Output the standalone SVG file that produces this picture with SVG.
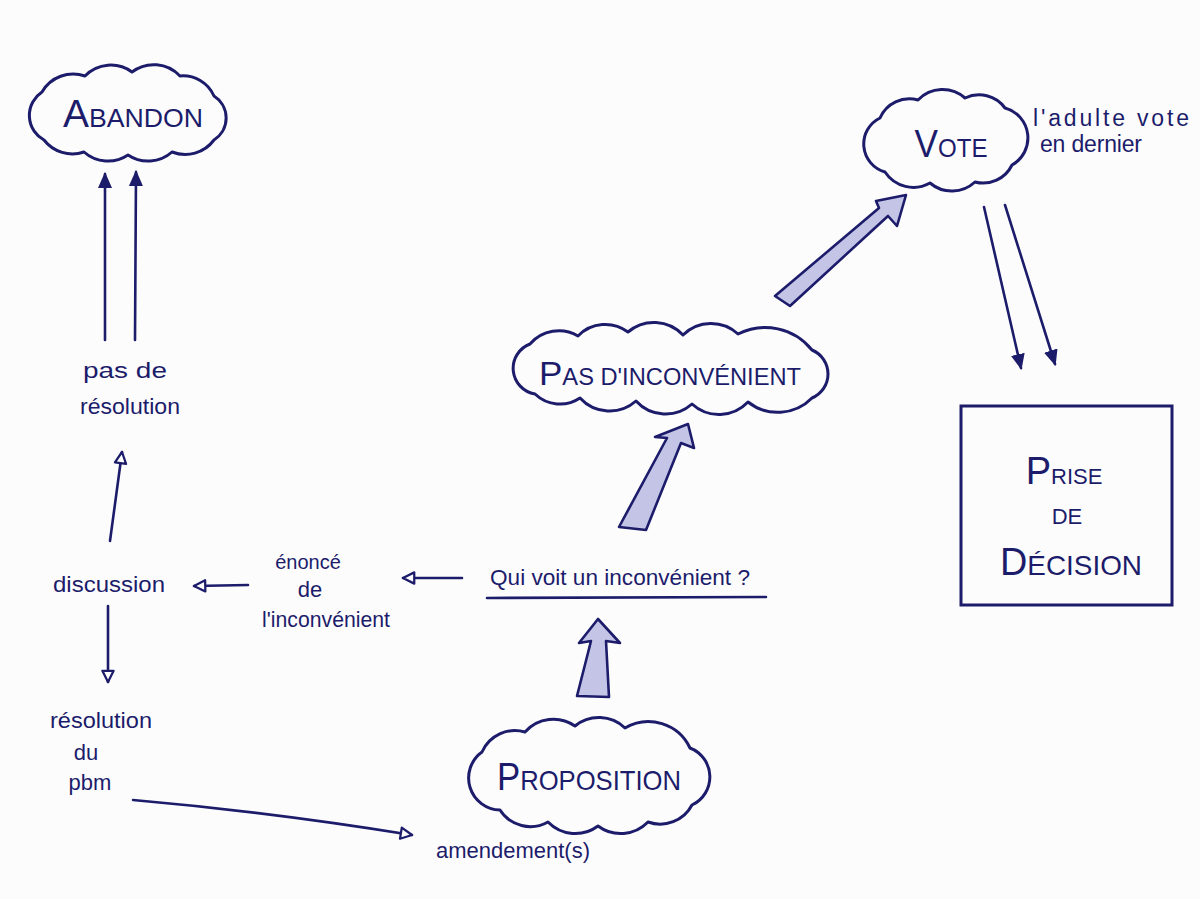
<svg xmlns="http://www.w3.org/2000/svg" width="1200" height="899" viewBox="0 0 1200 899">
  <style>
    .ink { fill: #1c1c6b; font-family: "Liberation Sans", "DejaVu Sans", sans-serif; }
    .t { font-size: 22px; }
    .cap { font-size: 26px; }
    .big { font-size: 38px; }
    .line { fill: none; stroke: #1c1c6b; stroke-width: 2.6; stroke-linecap: round; }
    .cloud { fill: none; stroke: #1c1c6b; stroke-width: 3; stroke-linejoin: round; }
    .block { fill: #c4c4e6; stroke: #1c1c6b; stroke-width: 2.6; stroke-linejoin: round; }
  </style>
  <defs>
    <marker id="headFill" viewBox="0 0 16 16" refX="14" refY="8" markerWidth="16" markerHeight="16" markerUnits="userSpaceOnUse" orient="auto">
      <path d="M0,1 L16,8 L0,15 Z" fill="#1c1c6b"/>
    </marker>
    <marker id="headOpen" viewBox="0 0 16 16" refX="14" refY="8" markerWidth="15" markerHeight="15" markerUnits="userSpaceOnUse" orient="auto">
      <path d="M2,2 L14,8 L2,14 Z" fill="#ffffff" stroke="#1c1c6b" stroke-width="2.4" stroke-linejoin="round"/>
    </marker>
  </defs>

  <rect x="0" y="0" width="1200" height="899" fill="#fcfcfd"/>

  <g id="abandon">
    <path class="cloud" d="M42,92 A36,36 0 0 1 85,76 A36,36 0 0 1 132,72 A36,36 0 0 1 180,76 A34,34 0 0 1 214,96 A26,26 0 0 1 214,140 A36,36 0 0 1 172,152 A36,36 0 0 1 128,155 A36,36 0 0 1 84,152 A36,36 0 0 1 44,140 A28,28 0 0 1 42,92 Z"/>
    <text class="ink" x="133" y="127" text-anchor="middle" textLength="140" lengthAdjust="spacingAndGlyphs"><tspan class="big">A</tspan><tspan class="cap">BANDON</tspan></text>
  </g>

  <g id="vote">
    <path class="cloud" d="M880,118 A32,32 0 0 1 918,100 A34,34 0 0 1 965,98 A32,32 0 0 1 1005,108 A31,31 0 0 1 1012,165 A32,32 0 0 1 975,182 A34,34 0 0 1 930,183 A34,34 0 0 1 885,172 A29,29 0 0 1 880,118 Z"/>
    <text class="ink" x="951" y="157" text-anchor="middle" textLength="73" lengthAdjust="spacingAndGlyphs"><tspan class="big">V</tspan><tspan class="cap">OTE</tspan></text>
  </g>

  <g id="note-adulte">
    <text class="ink" x="1033" y="126" font-size="23" textLength="156" lengthAdjust="spacing">l'adulte vote</text>
    <text class="ink" x="1040" y="152" font-size="23" textLength="102" lengthAdjust="spacing">en dernier</text>
  </g>

  <g id="pas-inconvenient">
    <path class="cloud" d="M530,344 A38,38 0 0 1 578,336 A38,38 0 0 1 628,332 A40,40 0 0 1 683,335 A40,40 0 0 1 738,334 A60,60 0 0 1 812,350 A26,26 0 0 1 812,398 A48,48 0 0 1 748,402 A40,40 0 0 1 692,404 A40,40 0 0 1 636,401 A40,40 0 0 1 580,398 A36,36 0 0 1 535,394 A26,26 0 0 1 530,344 Z"/>
    <text class="ink" x="670" y="385" text-anchor="middle" textLength="262" lengthAdjust="spacingAndGlyphs"><tspan font-size="34">P</tspan><tspan font-size="23">AS D'INCONVÉNIENT</tspan></text>
  </g>

  <g id="proposition">
    <path class="cloud" d="M482,752 A36,36 0 0 1 525,732 A38,38 0 0 1 575,726 A38,38 0 0 1 625,728 A46,46 0 0 1 690,748 A31,31 0 0 1 692,805 A36,36 0 0 1 648,822 A38,38 0 0 1 598,826 A38,38 0 0 1 548,822 A36,36 0 0 1 500,810 A32,32 0 0 1 482,752 Z"/>
    <text class="ink" x="589" y="790" text-anchor="middle" textLength="184" lengthAdjust="spacingAndGlyphs"><tspan font-size="38">P</tspan><tspan font-size="28">ROPOSITION</tspan></text>
  </g>

  <g id="prise-decision">
    <rect x="961" y="406" width="211" height="199" fill="none" stroke="#1c1c6b" stroke-width="3"/>
    <text class="ink" x="1064" y="484" text-anchor="middle"><tspan font-size="38">P</tspan><tspan font-size="22">RISE</tspan></text>
    <text class="ink" x="1067" y="524" text-anchor="middle" font-size="22">DE</text>
    <text class="ink" x="1071" y="575" text-anchor="middle" textLength="142" lengthAdjust="spacingAndGlyphs"><tspan font-size="38">D</tspan><tspan font-size="28">ÉCISION</tspan></text>
  </g>

  <g id="pas-de-resolution">
    <text class="ink t" x="125" y="378" text-anchor="middle" textLength="84" lengthAdjust="spacingAndGlyphs">pas de</text>
    <text class="ink t" x="130" y="414" text-anchor="middle" textLength="100" lengthAdjust="spacingAndGlyphs">résolution</text>
  </g>

  <g id="discussion">
    <text class="ink t" x="109" y="592" text-anchor="middle" textLength="112" lengthAdjust="spacingAndGlyphs">discussion</text>
  </g>

  <g id="enonce">
    <text class="ink" x="308" y="569" text-anchor="middle" font-size="20">énoncé</text>
    <text class="ink t" x="310" y="597" text-anchor="middle">de</text>
    <text class="ink t" x="326" y="627" text-anchor="middle" textLength="128" lengthAdjust="spacingAndGlyphs">l'inconvénient</text>
  </g>

  <g id="qui-voit">
    <text class="ink t" x="620" y="585" text-anchor="middle" textLength="260" lengthAdjust="spacingAndGlyphs">Qui voit un inconvénient ?</text>
    <line class="line" x1="487" y1="598" x2="766" y2="597"/>
  </g>

  <g id="resolution-pbm">
    <text class="ink t" x="101" y="728" text-anchor="middle" textLength="102" lengthAdjust="spacingAndGlyphs">résolution</text>
    <text class="ink t" x="86" y="760" text-anchor="middle">du</text>
    <text class="ink t" x="90" y="790" text-anchor="middle">pbm</text>
  </g>

  <g id="amendements">
    <text class="ink t" x="513" y="858" text-anchor="middle" textLength="154" lengthAdjust="spacingAndGlyphs">amendement(s)</text>
  </g>

  <g id="connectors">
    <line class="line" x1="105" y1="340" x2="105" y2="174" marker-end="url(#headFill)"/>
    <line class="line" x1="135" y1="340" x2="136" y2="172" marker-end="url(#headFill)"/>
    <line class="line" x1="984" y1="207" x2="1021" y2="368" marker-end="url(#headFill)"/>
    <line class="line" x1="1005" y1="205" x2="1055" y2="364" marker-end="url(#headFill)"/>
    <line class="line" x1="110" y1="541" x2="122" y2="452" marker-end="url(#headOpen)"/>
    <line class="line" x1="248" y1="585" x2="194" y2="586" marker-end="url(#headOpen)"/>
    <line class="line" x1="462" y1="578" x2="403" y2="578" marker-end="url(#headOpen)"/>
    <line class="line" x1="108" y1="606" x2="108" y2="682" marker-end="url(#headOpen)"/>
    <path class="line" d="M133,800 Q270,812 412,835" marker-end="url(#headOpen)"/>
    <polygon class="block" points="598,619 620,643 606,641 609,697 577,696 591,641 579,643"/>
    <polygon class="block" points="688,424 694,448 681,443 646,530 619,527 667,438 655,437"/>
    <polygon class="block" points="906,195 897,226 888,216 790,306 775,296 879,208 876,201"/>
  </g>
</svg>
